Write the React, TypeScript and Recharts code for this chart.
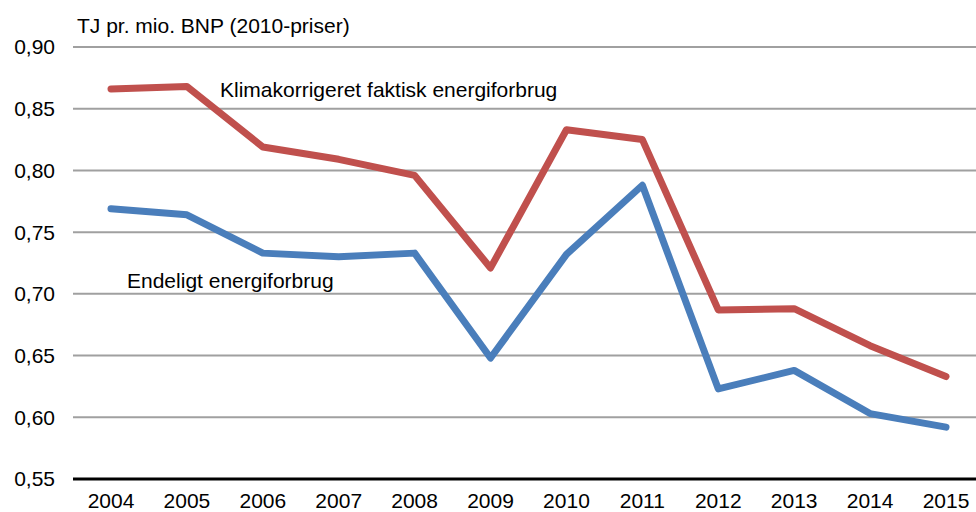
import React from 'react';
import { LineChart, Line, XAxis, YAxis, CartesianGrid } from 'recharts';

// Energiintensitet, TJ pr. mio. BNP (2010-priser)
const years = ['2004', '2005', '2006', '2007', '2008', '2009', '2010', '2011', '2012', '2013', '2014', '2015'];
const klimakorrigeret = [0.866, 0.868, 0.819, 0.809, 0.796, 0.721, 0.833, 0.825, 0.687, 0.688, 0.658, 0.633];
const endeligt = [0.769, 0.764, 0.733, 0.730, 0.733, 0.648, 0.732, 0.788, 0.623, 0.638, 0.603, 0.592];
const yTicks = [0.55, 0.6, 0.65, 0.7, 0.75, 0.8, 0.85, 0.9];

const rows = years.map((year, i) => ({
  year,
  klima: klimakorrigeret[i],
  endeligt: endeligt[i],
}));

const font = '"Liberation Sans", Arial, sans-serif';
const fontSize = 21;

const textStyle: React.CSSProperties = {
  position: 'absolute',
  fontFamily: font,
  fontSize,
  lineHeight: 1,
  color: '#000',
  whiteSpace: 'nowrap',
};

const App: React.FC = () => {
  return (
    <div style={{ position: 'absolute', left: 0, top: 0, width: 976, height: 512, overflow: 'hidden', background: '#fff' }}>
      <LineChart
        width={1000}
        height={540}
        data={rows}
        margin={{ top: 47, right: 16, bottom: 28, left: 0 }}
      >
        <CartesianGrid vertical={false} stroke="#a0a0a0" strokeWidth={2} />
        <XAxis
          dataKey="year"
          height={33}
          padding={{ left: 38, right: 38 }}
          axisLine={{ stroke: '#000', strokeWidth: 3 }}
          tickLine={false}
          tickSize={0}
          tickMargin={14}
          interval={0}
          tick={{ fill: '#000', fontSize, fontFamily: font }}
        />
        <YAxis
          width={73}
          domain={[0.55, 0.9]}
          ticks={yTicks}
          axisLine={false}
          tickLine={false}
          tickSize={0}
          tickMargin={18}
          tickFormatter={(v: number) => v.toFixed(2).replace('.', ',')}
          tick={{ fill: '#000', fontSize, fontFamily: font }}
        />
        <Line
          type="linear"
          dataKey="endeligt"
          stroke="#4A7EBB"
          strokeWidth={7}
          strokeLinecap="round"
          strokeLinejoin="round"
          dot={false}
          isAnimationActive={false}
        />
        <Line
          type="linear"
          dataKey="klima"
          stroke="#C0504D"
          strokeWidth={7}
          strokeLinecap="round"
          strokeLinejoin="round"
          dot={false}
          isAnimationActive={false}
        />
      </LineChart>
      <div style={{ ...textStyle, left: 77, top: 15 }}>TJ pr. mio. BNP (2010-priser)</div>
      <div style={{ ...textStyle, left: 220, top: 79 }}>Klimakorrigeret faktisk energiforbrug</div>
      <div style={{ ...textStyle, left: 127, top: 270 }}>Endeligt energiforbrug</div>
    </div>
  );
};

export default App;
